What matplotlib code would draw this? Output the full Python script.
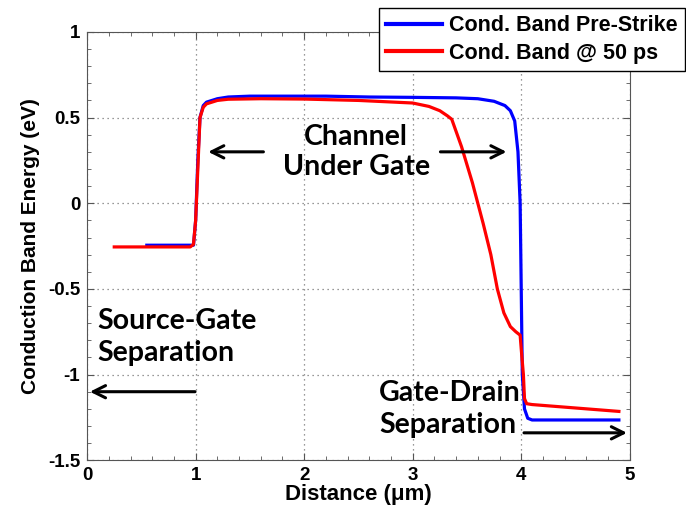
import matplotlib.pyplot as plt
import numpy as np

# Conduction band pre-strike (blue)
x_pre = [0.55, 0.98, 1.0, 1.02, 1.04, 1.07, 1.1, 1.2, 1.3, 1.5, 1.8, 2.2, 2.6, 3.0, 3.4, 3.6, 3.75, 3.85, 3.9, 3.94, 3.97, 3.99, 4.0, 4.01, 4.03, 4.06, 4.1, 4.9]
y_pre = [-0.245, -0.245, -0.1, 0.25, 0.5, 0.57, 0.59, 0.61, 0.62, 0.625, 0.625, 0.625, 0.62, 0.618, 0.615, 0.61, 0.595, 0.57, 0.54, 0.48, 0.3, 0.0, -0.5, -1.0, -1.2, -1.255, -1.265, -1.265]

# Conduction band at 50 ps (red)
x_50 = [0.25, 0.95, 0.98, 1.0, 1.02, 1.04, 1.07, 1.1, 1.2, 1.3, 1.6, 2.0, 2.5, 3.0, 3.15, 3.25, 3.32, 3.36, 3.45, 3.55, 3.65, 3.72, 3.78, 3.84, 3.9, 3.95, 3.99, 4.0, 4.02, 4.03, 4.05, 4.1, 4.5, 4.9]
y_50 = [-0.255, -0.255, -0.24, -0.1, 0.2, 0.5, 0.56, 0.58, 0.6, 0.607, 0.61, 0.608, 0.6, 0.585, 0.565, 0.54, 0.51, 0.49, 0.33, 0.12, -0.12, -0.3, -0.5, -0.64, -0.72, -0.75, -0.77, -0.85, -1.0, -1.14, -1.17, -1.175, -1.195, -1.215]

xticks = [0, 1, 2, 3, 4, 5]
yticks = [-1.5, -1, -0.5, 0, 0.5, 1]
ytick_labels = ["-1.5", "-1", "-0.5", "0", "0.5", "1"]

plt.rcParams['font.family'] = ['Liberation Sans', 'DejaVu Sans']

fig = plt.figure(figsize=(6.86, 5.23), dpi=100)
ax = fig.add_axes([0.127, 0.120, 0.791, 0.819])

ax.plot(x_pre, y_pre, color="blue", lw=2.3, label="Cond. Band Pre-Strike")
ax.plot(x_50, y_50, color="red", lw=2.3, label="Cond. Band @ 50 ps")

ax.set_xlim(0, 5)
ax.set_ylim(-1.5, 1)
ax.set_xticks(xticks)
ax.set_xticklabels([str(t) for t in xticks], fontsize=13.5, fontweight="bold")
ax.set_yticks(yticks)
ax.set_yticklabels(ytick_labels, fontsize=13.5, fontweight="bold")
ax.set_xticks(np.arange(0, 5.01, 0.2), minor=True)
ax.set_yticks(np.arange(-1.5, 1.01, 0.1), minor=True)
ax.tick_params(which="both", direction="in", top=True, right=True, color="#555555")
ax.tick_params(which="major", length=5, pad=5)
ax.tick_params(which="minor", length=3)
ax.grid(True, which="major", linestyle=(0, (1, 3)), color="#777777", linewidth=0.9)
for s in ax.spines.values():
    s.set_color("#555555")

ax.set_xlabel("Distance (\u03bcm)", fontsize=16, fontweight="bold", labelpad=0)
ax.set_ylabel("Conduction Band Energy (eV)", fontsize=15, fontweight="bold", labelpad=6)

note_font = dict(family=["Lato", "DejaVu Sans"], fontsize=20.5, fontweight="bold", color="black")
ax.text(2.48, 0.30, "Channel\nUnder Gate", ha="center", va="center", linespacing=1.2, **note_font)
ax.text(0.09, -0.78, "Source-Gate\nSeparation", ha="left", va="center", linespacing=1.25, **note_font)
ax.text(2.69, -1.20, "Gate-Drain\nSeparation", ha="left", va="center", linespacing=1.3, **note_font)

arrow = dict(arrowstyle="->", color="black", lw=2.2, mutation_scale=22)
ax.annotate("", xy=(1.09, 0.30), xytext=(1.65, 0.30), arrowprops=arrow)
ax.annotate("", xy=(3.89, 0.30), xytext=(3.23, 0.30), arrowprops=arrow)
ax.annotate("", xy=(0.0, -1.10), xytext=(1.02, -1.10), arrowprops=arrow)
ax.annotate("", xy=(5.0, -1.34), xytext=(4.0, -1.34), arrowprops=arrow)

leg = fig.legend(loc="upper right", bbox_to_anchor=(0.9985, 0.985),
                 prop=dict(weight="bold", size=15.5), fancybox=False, framealpha=1,
                 edgecolor="black", handlelength=2.6, handletextpad=0.3,
                 borderpad=0.35, borderaxespad=0, labelspacing=0.3)
leg.get_frame().set_linewidth(1.0)
for line in leg.get_lines():
    line.set_linewidth(3)

fig.savefig("out.png", dpi=100)
